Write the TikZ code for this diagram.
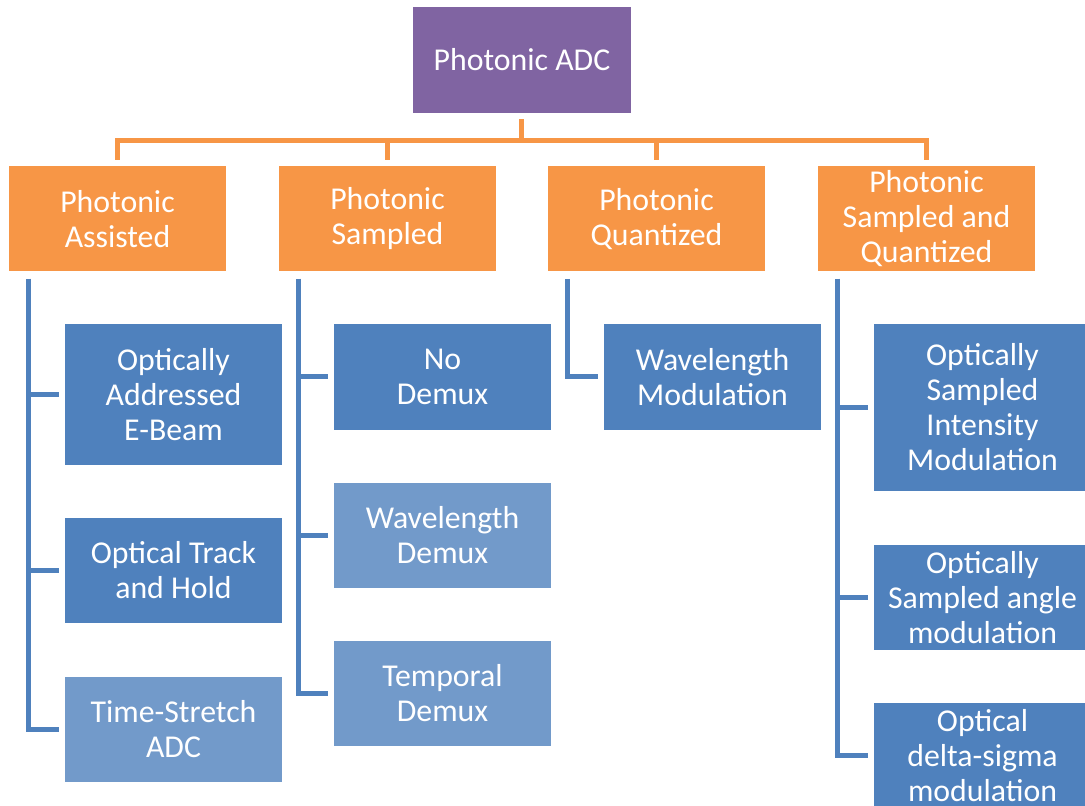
\documentclass[tikz,border=0pt]{standalone}
\usepackage{fontspec}
\setmainfont{Carlito}
\usepackage{xcolor}
\usepackage{tikz}
\usetikzlibrary{
  arrows.meta,
  positioning,
  calc
}
\definecolor{rootcolor}{HTML}{8064A2}
\definecolor{catcolor}{HTML}{F79646}
\definecolor{leafdark}{HTML}{4F81BD}
\definecolor{leaflight}{HTML}{729ACA}

\begin{document}
\begin{tikzpicture}[
  x=0.5pt, y=-0.5pt,
  box/.style={minimum width=108.5pt, minimum height=52.5pt, inner sep=2pt,
              text=white, align=center,
              font=\fontsize{15.9pt}{17.5pt}\selectfont},
  rootbox/.style={box, fill=rootcolor, minimum width=109pt, minimum height=53pt},
  catbox/.style={box, fill=catcolor},
  darkbox/.style={box, fill=leafdark},
  lightbox/.style={box, fill=leaflight},
  catline/.style={draw=catcolor, line width=2.5pt},
  leafline/.style={draw=leafdark, line width=2.5pt, shorten >=3pt},
]
  \useasboundingbox (0,0) rectangle (1085,806);

  \node[rootbox] (root) at (522,60) {Photonic ADC};

  \node[catbox] (pa)  at (117.5,219) {Photonic\\Assisted};
  \node[catbox] (ps)  at (387.5,219) {Photonic\\Sampled};
  \node[catbox] (pq)  at (656.5,219) {Photonic\\Quantized};
  \node[catbox] (psq) at (926.5,219) {Photonic\\Sampled and\\Quantized};

  % first column
  \node[darkbox, minimum height=70.5pt] (oae) at (173.5,394.5)
    {Optically\\Addressed\\E-Beam};
  \node[darkbox] (oth) at (173.5,570.5) {Optical Track\\and Hold};
  \node[lightbox] (ts) at (173.5,729.5) {Time-Stretch\\ADC};

  % second column
  \node[darkbox] (nd) at (442.5,377) {No\\Demux};
  \node[lightbox] (wd) at (442.5,535.5) {Wavelength\\Demux};
  \node[lightbox] (td) at (442.5,693.5) {Temporal\\Demux};

  % third column
  \node[darkbox] (wm) at (712.5,377) {Wavelength\\Modulation};

  % fourth column
  \node[darkbox, minimum height=83.5pt] (osi) at (982.5,407.5)
    {Optically\\Sampled\\Intensity\\Modulation};
  \node[darkbox] (osa) at (982.5,597.5) {Optically\\Sampled angle\\modulation};
  \node[darkbox] (ods) at (982.5,755.5) {Optical\\delta-sigma\\modulation};

  % orange bar
  \coordinate (bar) at (521,141);
  \draw[catline, shorten <=3pt] (root.south -| bar) -- (bar);
  \foreach \c in {pa,ps,pq,psq}
    \draw[catline, shorten >=3pt] (bar) -| (\c.north);

  % blue branches
  \foreach \c/\leaves in {pa/{oae,oth,ts}, ps/{nd,wd,td}, pq/{wm},
                          psq/{osi,osa,ods}}
    \foreach \l in \leaves
      \draw[leafline] ([xshift=9.75pt,yshift=-3.5pt]\c.south west)
        |- (\l.west);
\end{tikzpicture}
\end{document}
